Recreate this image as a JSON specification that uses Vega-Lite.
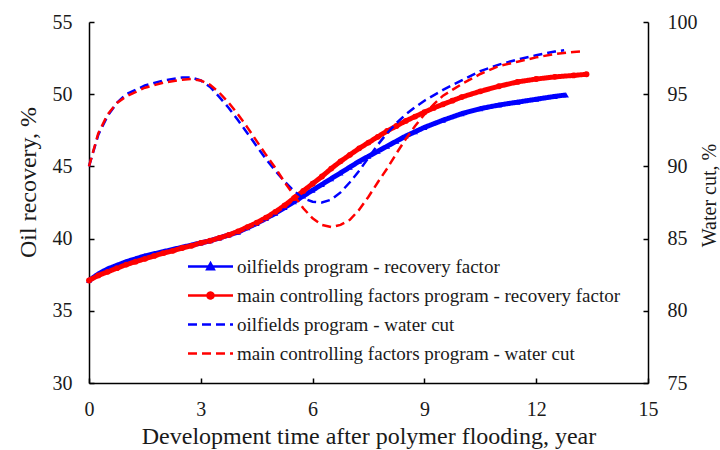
{
  "$schema": "https://vega.github.io/schema/vega-lite/v6.json",
  "autosize": "none",
  "width": 559,
  "height": 361,
  "padding": {"left": 89, "top": 22, "right": 72, "bottom": 67},
  "background": "white",
  "config": {
    "view": {"stroke": null},
    "font": "Liberation Serif",
    "axis": {
      "grid": false,
      "domainColor": "#000000",
      "domainWidth": 1.5,
      "tickColor": "#000000",
      "tickWidth": 1.5,
      "tickSize": -5,
      "labelFlush": false,
      "labelFont": "Liberation Serif",
      "labelFontSize": 20,
      "labelColor": "#1a1a1a",
      "titleFont": "Liberation Serif",
      "titleFontSize": 22,
      "titleFontWeight": "normal",
      "titleColor": "#1a1a1a"
    }
  },
  "datasets": {
    "rf": [
      {"series": "oilfields program - recovery factor", "t": 0, "v": 37.1},
      {"series": "oilfields program - recovery factor", "t": 0.25, "v": 37.55},
      {"series": "oilfields program - recovery factor", "t": 0.5, "v": 37.9},
      {"series": "oilfields program - recovery factor", "t": 0.75, "v": 38.15},
      {"series": "oilfields program - recovery factor", "t": 1.0, "v": 38.4},
      {"series": "oilfields program - recovery factor", "t": 1.25, "v": 38.6},
      {"series": "oilfields program - recovery factor", "t": 1.5, "v": 38.8},
      {"series": "oilfields program - recovery factor", "t": 1.75, "v": 38.95},
      {"series": "oilfields program - recovery factor", "t": 2.0, "v": 39.1},
      {"series": "oilfields program - recovery factor", "t": 2.25, "v": 39.25},
      {"series": "oilfields program - recovery factor", "t": 2.5, "v": 39.4},
      {"series": "oilfields program - recovery factor", "t": 2.75, "v": 39.55},
      {"series": "oilfields program - recovery factor", "t": 3.0, "v": 39.7},
      {"series": "oilfields program - recovery factor", "t": 3.25, "v": 39.85},
      {"series": "oilfields program - recovery factor", "t": 3.5, "v": 40.05},
      {"series": "oilfields program - recovery factor", "t": 3.75, "v": 40.25},
      {"series": "oilfields program - recovery factor", "t": 4.0, "v": 40.45},
      {"series": "oilfields program - recovery factor", "t": 4.25, "v": 40.75},
      {"series": "oilfields program - recovery factor", "t": 4.5, "v": 41.05},
      {"series": "oilfields program - recovery factor", "t": 4.75, "v": 41.4},
      {"series": "oilfields program - recovery factor", "t": 5.0, "v": 41.75},
      {"series": "oilfields program - recovery factor", "t": 5.25, "v": 42.15},
      {"series": "oilfields program - recovery factor", "t": 5.5, "v": 42.55},
      {"series": "oilfields program - recovery factor", "t": 5.75, "v": 42.95},
      {"series": "oilfields program - recovery factor", "t": 6.0, "v": 43.35},
      {"series": "oilfields program - recovery factor", "t": 6.25, "v": 43.75},
      {"series": "oilfields program - recovery factor", "t": 6.5, "v": 44.15},
      {"series": "oilfields program - recovery factor", "t": 6.75, "v": 44.55},
      {"series": "oilfields program - recovery factor", "t": 7.0, "v": 44.95},
      {"series": "oilfields program - recovery factor", "t": 7.25, "v": 45.35},
      {"series": "oilfields program - recovery factor", "t": 7.5, "v": 45.7},
      {"series": "oilfields program - recovery factor", "t": 7.75, "v": 46.05},
      {"series": "oilfields program - recovery factor", "t": 8.0, "v": 46.4},
      {"series": "oilfields program - recovery factor", "t": 8.25, "v": 46.75},
      {"series": "oilfields program - recovery factor", "t": 8.5, "v": 47.1},
      {"series": "oilfields program - recovery factor", "t": 8.75, "v": 47.4},
      {"series": "oilfields program - recovery factor", "t": 9.0, "v": 47.7},
      {"series": "oilfields program - recovery factor", "t": 9.5, "v": 48.2},
      {"series": "oilfields program - recovery factor", "t": 10.0, "v": 48.65},
      {"series": "oilfields program - recovery factor", "t": 10.5, "v": 49.0},
      {"series": "oilfields program - recovery factor", "t": 11.0, "v": 49.25},
      {"series": "oilfields program - recovery factor", "t": 11.5, "v": 49.45},
      {"series": "oilfields program - recovery factor", "t": 12.0, "v": 49.65},
      {"series": "oilfields program - recovery factor", "t": 12.5, "v": 49.85},
      {"series": "oilfields program - recovery factor", "t": 12.8, "v": 49.95},
      {"series": "main controlling factors program - recovery factor", "t": 0, "v": 37.1},
      {"series": "main controlling factors program - recovery factor", "t": 0.25, "v": 37.45},
      {"series": "main controlling factors program - recovery factor", "t": 0.5, "v": 37.7},
      {"series": "main controlling factors program - recovery factor", "t": 0.75, "v": 37.95},
      {"series": "main controlling factors program - recovery factor", "t": 1.0, "v": 38.2},
      {"series": "main controlling factors program - recovery factor", "t": 1.25, "v": 38.4},
      {"series": "main controlling factors program - recovery factor", "t": 1.5, "v": 38.6},
      {"series": "main controlling factors program - recovery factor", "t": 1.75, "v": 38.8},
      {"series": "main controlling factors program - recovery factor", "t": 2.0, "v": 39.0},
      {"series": "main controlling factors program - recovery factor", "t": 2.25, "v": 39.15},
      {"series": "main controlling factors program - recovery factor", "t": 2.5, "v": 39.35},
      {"series": "main controlling factors program - recovery factor", "t": 2.75, "v": 39.5},
      {"series": "main controlling factors program - recovery factor", "t": 3.0, "v": 39.7},
      {"series": "main controlling factors program - recovery factor", "t": 3.25, "v": 39.85},
      {"series": "main controlling factors program - recovery factor", "t": 3.5, "v": 40.05},
      {"series": "main controlling factors program - recovery factor", "t": 3.75, "v": 40.25},
      {"series": "main controlling factors program - recovery factor", "t": 4.0, "v": 40.5},
      {"series": "main controlling factors program - recovery factor", "t": 4.25, "v": 40.8},
      {"series": "main controlling factors program - recovery factor", "t": 4.5, "v": 41.1},
      {"series": "main controlling factors program - recovery factor", "t": 4.75, "v": 41.45},
      {"series": "main controlling factors program - recovery factor", "t": 5.0, "v": 41.85},
      {"series": "main controlling factors program - recovery factor", "t": 5.25, "v": 42.3},
      {"series": "main controlling factors program - recovery factor", "t": 5.5, "v": 42.8},
      {"series": "main controlling factors program - recovery factor", "t": 5.75, "v": 43.3},
      {"series": "main controlling factors program - recovery factor", "t": 6.0, "v": 43.8},
      {"series": "main controlling factors program - recovery factor", "t": 6.25, "v": 44.3},
      {"series": "main controlling factors program - recovery factor", "t": 6.5, "v": 44.85},
      {"series": "main controlling factors program - recovery factor", "t": 6.75, "v": 45.35},
      {"series": "main controlling factors program - recovery factor", "t": 7.0, "v": 45.8},
      {"series": "main controlling factors program - recovery factor", "t": 7.25, "v": 46.25},
      {"series": "main controlling factors program - recovery factor", "t": 7.5, "v": 46.65},
      {"series": "main controlling factors program - recovery factor", "t": 7.75, "v": 47.05},
      {"series": "main controlling factors program - recovery factor", "t": 8.0, "v": 47.45},
      {"series": "main controlling factors program - recovery factor", "t": 8.25, "v": 47.8},
      {"series": "main controlling factors program - recovery factor", "t": 8.5, "v": 48.15},
      {"series": "main controlling factors program - recovery factor", "t": 8.75, "v": 48.45},
      {"series": "main controlling factors program - recovery factor", "t": 9.0, "v": 48.75},
      {"series": "main controlling factors program - recovery factor", "t": 9.25, "v": 49.05},
      {"series": "main controlling factors program - recovery factor", "t": 9.5, "v": 49.3},
      {"series": "main controlling factors program - recovery factor", "t": 9.75, "v": 49.55},
      {"series": "main controlling factors program - recovery factor", "t": 10.0, "v": 49.8},
      {"series": "main controlling factors program - recovery factor", "t": 10.5, "v": 50.2},
      {"series": "main controlling factors program - recovery factor", "t": 11.0, "v": 50.55},
      {"series": "main controlling factors program - recovery factor", "t": 11.5, "v": 50.85},
      {"series": "main controlling factors program - recovery factor", "t": 12.0, "v": 51.05},
      {"series": "main controlling factors program - recovery factor", "t": 12.5, "v": 51.2},
      {"series": "main controlling factors program - recovery factor", "t": 13.0, "v": 51.3},
      {"series": "main controlling factors program - recovery factor", "t": 13.35, "v": 51.38}
    ],
    "wc": [
      {"series": "oilfields program - water cut", "t": 0, "v": 90.0},
      {"series": "oilfields program - water cut", "t": 0.25, "v": 92.2},
      {"series": "oilfields program - water cut", "t": 0.5, "v": 93.5},
      {"series": "oilfields program - water cut", "t": 0.75, "v": 94.4},
      {"series": "oilfields program - water cut", "t": 1.0, "v": 95.0},
      {"series": "oilfields program - water cut", "t": 1.5, "v": 95.6},
      {"series": "oilfields program - water cut", "t": 2.0, "v": 95.95},
      {"series": "oilfields program - water cut", "t": 2.5, "v": 96.15},
      {"series": "oilfields program - water cut", "t": 2.75, "v": 96.15},
      {"series": "oilfields program - water cut", "t": 3.0, "v": 95.95},
      {"series": "oilfields program - water cut", "t": 3.25, "v": 95.5},
      {"series": "oilfields program - water cut", "t": 3.5, "v": 94.8},
      {"series": "oilfields program - water cut", "t": 3.75, "v": 94.05},
      {"series": "oilfields program - water cut", "t": 4.0, "v": 93.2},
      {"series": "oilfields program - water cut", "t": 4.25, "v": 92.3},
      {"series": "oilfields program - water cut", "t": 4.5, "v": 91.4},
      {"series": "oilfields program - water cut", "t": 4.75, "v": 90.5},
      {"series": "oilfields program - water cut", "t": 5.0, "v": 89.7},
      {"series": "oilfields program - water cut", "t": 5.25, "v": 88.95},
      {"series": "oilfields program - water cut", "t": 5.5, "v": 88.3},
      {"series": "oilfields program - water cut", "t": 5.75, "v": 87.8},
      {"series": "oilfields program - water cut", "t": 6.0, "v": 87.55},
      {"series": "oilfields program - water cut", "t": 6.25, "v": 87.5},
      {"series": "oilfields program - water cut", "t": 6.5, "v": 87.7},
      {"series": "oilfields program - water cut", "t": 6.75, "v": 88.2},
      {"series": "oilfields program - water cut", "t": 7.0, "v": 88.9},
      {"series": "oilfields program - water cut", "t": 7.25, "v": 89.7},
      {"series": "oilfields program - water cut", "t": 7.5, "v": 90.6},
      {"series": "oilfields program - water cut", "t": 7.75, "v": 91.5},
      {"series": "oilfields program - water cut", "t": 8.0, "v": 92.3},
      {"series": "oilfields program - water cut", "t": 8.25, "v": 93.0},
      {"series": "oilfields program - water cut", "t": 8.5, "v": 93.6},
      {"series": "oilfields program - water cut", "t": 8.75, "v": 94.1},
      {"series": "oilfields program - water cut", "t": 9.0, "v": 94.55},
      {"series": "oilfields program - water cut", "t": 9.5, "v": 95.3},
      {"series": "oilfields program - water cut", "t": 10.0, "v": 95.95},
      {"series": "oilfields program - water cut", "t": 10.5, "v": 96.6},
      {"series": "oilfields program - water cut", "t": 11.0, "v": 97.05},
      {"series": "oilfields program - water cut", "t": 11.5, "v": 97.4},
      {"series": "oilfields program - water cut", "t": 12.0, "v": 97.7},
      {"series": "oilfields program - water cut", "t": 12.5, "v": 97.95},
      {"series": "oilfields program - water cut", "t": 12.75, "v": 98.05},
      {"series": "main controlling factors program - water cut", "t": 0, "v": 90.0},
      {"series": "main controlling factors program - water cut", "t": 0.25, "v": 92.3},
      {"series": "main controlling factors program - water cut", "t": 0.5, "v": 93.6},
      {"series": "main controlling factors program - water cut", "t": 0.75, "v": 94.4},
      {"series": "main controlling factors program - water cut", "t": 1.0, "v": 94.85},
      {"series": "main controlling factors program - water cut", "t": 1.5, "v": 95.45},
      {"series": "main controlling factors program - water cut", "t": 2.0, "v": 95.8},
      {"series": "main controlling factors program - water cut", "t": 2.5, "v": 96.0},
      {"series": "main controlling factors program - water cut", "t": 2.75, "v": 96.05},
      {"series": "main controlling factors program - water cut", "t": 3.0, "v": 95.95},
      {"series": "main controlling factors program - water cut", "t": 3.25, "v": 95.65},
      {"series": "main controlling factors program - water cut", "t": 3.5, "v": 95.1},
      {"series": "main controlling factors program - water cut", "t": 3.75, "v": 94.4},
      {"series": "main controlling factors program - water cut", "t": 4.0, "v": 93.6},
      {"series": "main controlling factors program - water cut", "t": 4.25, "v": 92.7},
      {"series": "main controlling factors program - water cut", "t": 4.5, "v": 91.75},
      {"series": "main controlling factors program - water cut", "t": 4.75, "v": 90.8},
      {"series": "main controlling factors program - water cut", "t": 5.0, "v": 89.9},
      {"series": "main controlling factors program - water cut", "t": 5.25, "v": 88.9},
      {"series": "main controlling factors program - water cut", "t": 5.5, "v": 88.0},
      {"series": "main controlling factors program - water cut", "t": 5.75, "v": 87.1},
      {"series": "main controlling factors program - water cut", "t": 6.0, "v": 86.4},
      {"series": "main controlling factors program - water cut", "t": 6.25, "v": 85.95},
      {"series": "main controlling factors program - water cut", "t": 6.5, "v": 85.8},
      {"series": "main controlling factors program - water cut", "t": 6.75, "v": 85.95},
      {"series": "main controlling factors program - water cut", "t": 7.0, "v": 86.3},
      {"series": "main controlling factors program - water cut", "t": 7.25, "v": 87.0},
      {"series": "main controlling factors program - water cut", "t": 7.5, "v": 87.9},
      {"series": "main controlling factors program - water cut", "t": 7.75, "v": 88.9},
      {"series": "main controlling factors program - water cut", "t": 8.0, "v": 89.85},
      {"series": "main controlling factors program - water cut", "t": 8.25, "v": 90.9},
      {"series": "main controlling factors program - water cut", "t": 8.5, "v": 91.9},
      {"series": "main controlling factors program - water cut", "t": 8.75, "v": 92.8},
      {"series": "main controlling factors program - water cut", "t": 9.0, "v": 93.6},
      {"series": "main controlling factors program - water cut", "t": 9.25, "v": 94.3},
      {"series": "main controlling factors program - water cut", "t": 9.5, "v": 94.9},
      {"series": "main controlling factors program - water cut", "t": 9.75, "v": 95.3},
      {"series": "main controlling factors program - water cut", "t": 10.0, "v": 95.7},
      {"series": "main controlling factors program - water cut", "t": 10.5, "v": 96.4},
      {"series": "main controlling factors program - water cut", "t": 11.0, "v": 96.95},
      {"series": "main controlling factors program - water cut", "t": 11.5, "v": 97.25},
      {"series": "main controlling factors program - water cut", "t": 12.0, "v": 97.55},
      {"series": "main controlling factors program - water cut", "t": 12.5, "v": 97.78},
      {"series": "main controlling factors program - water cut", "t": 13.0, "v": 97.92},
      {"series": "main controlling factors program - water cut", "t": 13.2, "v": 97.96}
    ]
  },
  "encoding": {
    "x": {
      "field": "t",
      "type": "quantitative",
      "scale": {"domain": [0, 15], "nice": false},
      "axis": {
        "values": [0, 3, 6, 9, 12, 15],
        "title": "Development time after polymer flooding, year",
        "titleFontSize": 24,
        "labelPadding": 21,
        "titlePadding": 5
      }
    },
    "color": {
      "field": "series",
      "type": "nominal",
      "scale": {
        "domain": [
          "oilfields program - recovery factor",
          "main controlling factors program - recovery factor",
          "oilfields program - water cut",
          "main controlling factors program - water cut"
        ],
        "range": ["#0000ff", "#ff0000", "#0000ff", "#ff0000"]
      },
      "legend": {
        "title": null,
        "orient": "none",
        "legendX": 112,
        "legendY": 235,
        "symbolType": "stroke",
        "symbolSize": 100,
        "symbolStrokeWidth": 2.5,
        "labelFont": "Liberation Serif",
        "labelFontSize": 19,
        "labelColor": "#1a1a1a",
        "labelOffset": 17,
        "labelLimit": 600,
        "rowPadding": 9,
        "encode": {
          "symbols": {
            "update": {
              "shape": {"signal": "datum.value === 'oilfields program - recovery factor' ? 'M-4.5,0L4.5,0M-0.65,0.55L0,-0.65L0.65,0.55Z' : datum.value === 'main controlling factors program - recovery factor' ? 'M-4.5,0L4.5,0M0.6,0A0.6,0.6,0,1,1,-0.6,0A0.6,0.6,0,1,1,0.6,0' : 'M-4.5,0L4.5,0'"},
              "fill": {"signal": "datum.value === 'oilfields program - recovery factor' ? '#0000ff' : datum.value === 'main controlling factors program - recovery factor' ? '#ff0000' : 'transparent'"}
            }
          }
        }
      }
    },
    "strokeDash": {
      "field": "series",
      "type": "nominal",
      "scale": {
        "domain": [
          "oilfields program - recovery factor",
          "main controlling factors program - recovery factor",
          "oilfields program - water cut",
          "main controlling factors program - water cut"
        ],
        "range": [[1, 0], [1, 0], [9, 5], [9, 5]]
      },
      "legend": null
    }
  },
  "layer": [
    {
      "data": {"name": "rf"},
      "layer": [
        {
          "mark": {"type": "line", "strokeWidth": 5},
          "encoding": {
            "y": {
              "field": "v",
              "type": "quantitative",
              "scale": {"domain": [30, 55], "nice": false},
              "axis": {
                "values": [30, 35, 40, 45, 50, 55],
                "orient": "left",
                "title": "Oil recovery, %",
                "titleFontSize": 24,
                "titleY": 160,
                "labelPadding": 22,
                "titlePadding": 12
              }
            }
          }
        },
        {
          "mark": {"type": "point", "filled": true, "size": 34, "opacity": 1},
          "encoding": {
            "y": {"field": "v", "type": "quantitative"},
            "shape": {
              "field": "series",
              "type": "nominal",
              "scale": {
                "domain": [
                  "oilfields program - recovery factor",
                  "main controlling factors program - recovery factor"
                ],
                "range": ["triangle-up", "circle"]
              },
              "legend": null
            },
            "strokeDash": {"value": [1, 0]}
          }
        }
      ]
    },
    {
      "data": {"name": "wc"},
      "mark": {"type": "line", "strokeWidth": 2.5},
      "encoding": {
        "y": {
          "field": "v",
          "type": "quantitative",
          "scale": {"domain": [75, 100], "nice": false},
          "axis": {
            "values": [75, 80, 85, 90, 95, 100],
            "orient": "right",
            "title": "Water cut, %",
            "titleFontSize": 20,
            "titleAngle": 270,
            "titleY": 173,
            "labelPadding": 24,
            "titlePadding": 22
          }
        }
      }
    }
  ],
  "resolve": {"scale": {"y": "independent"}}
}
